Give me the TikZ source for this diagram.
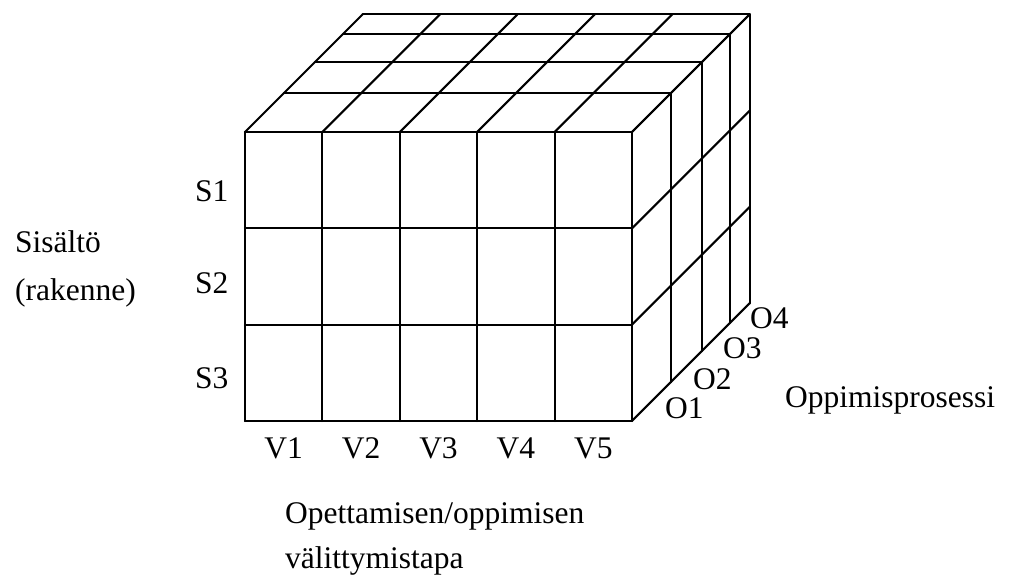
\documentclass[tikz,border=0pt]{standalone}
\usepackage{fontspec}
\setmainfont{Liberation Serif}
\begin{document}
\begin{tikzpicture}[x=1pt,y=-1pt,
  grid/.style={line width=2.1pt, line cap=round, line join=round},
  lbl/.style={inner sep=0pt, font=\fontsize{31.5}{37}\selectfont}]
\useasboundingbox (0,0) rectangle (1015,583);
% geometry
\def\Xa{245}\def\W{77.4}\def\Ya{132}\def\H{96.3}
\def\Xe{632}\def\Yd{421}
% front face
\foreach \i in {0,...,5}{\draw[grid] ({\Xa+\i*\W},\Ya) -- ({\Xa+\i*\W},\Yd);}
\foreach \j in {0,...,3}{\draw[grid] (\Xa,{\Ya+\j*\H}) -- (\Xe,{\Ya+\j*\H});}
% top face
\foreach \d in {38.8,70,98.2,117.7}{\draw[grid] ({\Xa+\d},{\Ya-\d}) -- ({\Xe+\d},{\Ya-\d});}
\foreach \i in {0,...,5}{\draw[grid] ({\Xa+\i*\W},\Ya) -- ({\Xa+\i*\W+117.7},{\Ya-117.7});}
% right face
\foreach \d in {38.8,70,98.2,117.7}{\draw[grid] ({\Xe+\d},{\Ya-\d}) -- ({\Xe+\d},{\Yd-\d});}
\foreach \j in {0,...,3}{\draw[grid] (\Xe,{\Ya+\j*\H}) -- ({\Xe+117.7},{\Ya+\j*\H-117.7});}
% labels
\node[lbl, anchor=base west] (sis) at (15,252) {Sisältö};
\node[lbl, anchor=base west] (rak) at (15,300) {(rakenne)};
\node[lbl, anchor=base west] (s1) at (195,201) {S1};
\node[lbl, anchor=base west] (s2) at (195,293) {S2};
\node[lbl, anchor=base west] (s3) at (195,388) {S3};
\foreach \i in {1,...,5}{\node[lbl, anchor=base] (v\i) at ({\Xa+(\i-0.5)*\W},458) {V\i};}
\node[lbl, anchor=base west] (ope) at (285,523) {Opettamisen/oppimisen};
\node[lbl, anchor=base west] (val) at (285,568) {välittymistapa};
\node[lbl, anchor=base west] (o1) at (665,418) {O1};
\node[lbl, anchor=base west] (o2) at (693,389) {O2};
\node[lbl, anchor=base west] (o3) at (723,358) {O3};
\node[lbl, anchor=base west] (o4) at (750,328) {O4};
\node[lbl, anchor=base west] (opp) at (785,407) {Oppimisprosessi};
\end{tikzpicture}
\end{document}
